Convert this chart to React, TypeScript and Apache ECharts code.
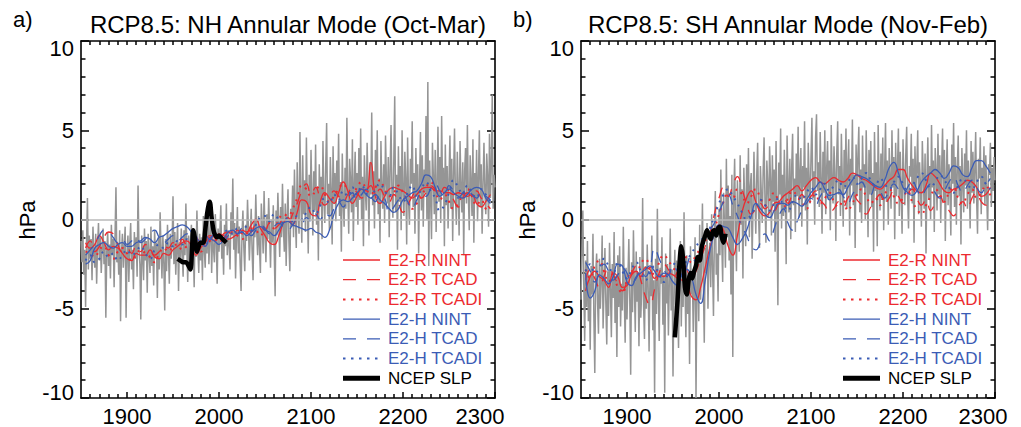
import React, { useEffect, useRef } from "react";
import * as echarts from "echarts";

// ---------------- DATA ----------------
const YEAR_MIN = 1850;
const YEAR_MAX = 2300;
const CENTURY_TICKS = [1900, 2000, 2100, 2200, 2300];
const Y_TICKS = [-10, -5, 0, 5, 10];

const TITLE_A = "RCP8.5: NH Annular Mode (Oct-Mar)";
const TITLE_B = "RCP8.5: SH Annular Mode (Nov-Feb)";
const LEGEND_NAMES = ["E2-R NINT", "E2-R TCAD", "E2-R TCADI", "E2-H NINT", "E2-H TCAD", "E2-H TCADI", "NCEP SLP"];

// annual grey series, 1850..2300
const GRAY_START = 1850;
const GRAY_A = [
  -1.2, -2.4, -0.6, -3.1, -1.7, -4.9, -1.3, 1.2, -2.8, -0.9,
  -2.2, -1.1, -3.4, -0.4, -1.9, -2.7, -0.8, -3.6, -1.5, -0.2,
  -2.3, -1.0, -3.0, -1.6, -0.5, -2.5, -1.2, -5.5, -1.8, -0.7,
  -2.6, -1.4, -3.3, -0.3, -2.0, -1.1, -3.8, -0.9, 1.8, -2.4,
  -1.3, -3.1, -0.6, -5.7, -1.9, -0.8, -2.7, -1.5, -0.4, -5.5,
  -2.0, -0.9, -3.5, -1.4, -0.2, -2.8, -1.7, -3.9, -0.7, -2.2,
  -1.0, -3.2, 1.9, -1.6, -2.5, -5.6, -0.9, -2.1, -3.4, -0.5,
  -2.3, -1.2, -4.1, -0.8, -1.9, -3.0, -0.4, -2.6, -1.5, -3.7,
  -0.6, -2.1, -1.3, -4.4, -1.0, -2.8, 0.4, -1.7, -3.3, -0.9,
  -2.4, -5.1, -1.1, -2.9, -0.3, -1.8, -3.6, -0.8, -2.2, -1.4,
  1.3, -2.5, -0.7, -3.1, -1.6, -0.2, -4.0, -1.3, -2.4, -0.5,
  -1.9, -3.2, -0.6, -2.0, 0.9, -1.5, -3.5, -0.9, -2.6, -1.2,
  -0.3, -2.8, -1.4, -3.8, -0.7, -2.1, 0.5, -1.6, -3.0, -0.8,
  -2.3, -1.0, -3.4, 0.2, -1.7, -2.7, -0.4, -1.9, 1.0, -2.5,
  -1.1, 0.6, -3.0, -0.9, -1.6, -2.4, 0.3, -1.2, -3.6, -0.5,
  -1.8, -0.7, 0.8, -2.2, -1.0, -3.1, -0.3, -1.5, 0.9, -2.0,
  -0.6, -1.4, -2.8, 0.4, -0.9, 2.3, -1.7, -0.2, -3.3, -1.0,
  0.7, -1.9, -0.4, -2.5, -4.0, -0.8, 0.5, -1.6, -2.9, -0.3,
  -1.2, 1.1, -0.5, -2.3, -0.9, 0.6, -1.8, -3.4, -0.1, -1.0,
  1.4, -0.7, -2.0, 0.2, -1.5, -3.0, 0.9, -0.4, -1.9, 1.6,
  -0.8, -2.4, 0.3, -1.1, 1.2, -0.6, -2.7, 0.0, -1.3, 0.8,
  -1.7, -4.3, 0.5, -0.9, 1.5, -0.3, -2.1, 0.7, -1.0, 2.0,
  -0.5, -1.8, 0.9, -2.6, 0.2, 1.7, -1.2, -2.9, 0.6, -0.4,
  1.9, -1.0, 2.8, 0.1, -1.6, 3.2, 0.4, -0.8, 4.9, 1.1,
  -1.3, 3.6, 0.3, 2.2, -0.7, 4.6, 1.0, -1.9, 2.5, 0.0,
  3.9, 1.4, -0.9, 2.7, 0.5, 4.2, -0.3, 1.8, -2.3, 3.1,
  0.8, 2.4, -1.1, 4.4, 1.2, -0.2, 3.0, 5.4, 0.3, 2.0,
  -0.6, 3.5, 1.6, -1.4, 4.1, 0.9, 2.6, -0.1, 3.3, 1.3,
  4.8, 0.2, 2.1, -1.8, 3.7, 1.0, -0.4, 2.9, 0.6, 5.7,
  1.5, -0.8, 3.4, 2.2, 0.4, 4.5, -1.2, 1.9, 3.8, 0.7,
  2.6, -0.3, 4.0, 1.1, 5.1, 0.0, 2.4, -1.5, 3.6, 1.7,
  0.5, 4.3, 2.0, -0.9, 3.2, 1.4, 6.0, 0.8, 2.7, -0.5,
  3.9, 1.2, 5.0, 0.3, 2.3, -1.3, 4.4, 1.8, 0.6, 3.1,
  -0.2, 4.7, 2.1, 0.9, 3.5, -1.0, 2.8, 5.3, 1.5, 0.1,
  3.3, 6.9, 0.4, 2.5, -1.7, 4.1, 1.0, 3.0, -0.6, 5.0,
  1.6, 0.2, 3.8, 2.3, -1.4, 4.6, 1.1, -0.3, 3.4, 2.0,
  5.5, 0.7, 2.6, -0.8, 4.0, 1.3, 3.1, -1.9, 2.2, 4.9,
  0.5, 3.6, -0.4, 2.8, 1.5, 5.8, 0.0, 7.7, -2.6, 3.3,
  1.2, -1.1, 4.3, 2.4, 0.3, 3.9, -0.7, 2.0, 5.2, 1.0,
  3.5, -0.2, 5.8, 1.6, 2.9, -1.5, 4.2, 0.8, 3.0, -0.5,
  2.2, 4.7, 0.6, 3.4, -1.2, 2.5, 5.1, 1.3, -0.3, 3.8,
  1.8, -0.9, 4.4, 2.0, 0.4, 3.2, -2.0, 2.7, 4.0, 0.9,
  5.3, 1.4, -0.6, 3.6, 2.1, 0.2, 4.5, -1.3, 2.6, 1.0,
  3.9, -0.1, 2.3, 5.0, 0.7, 3.1, -0.8, 2.0, 4.3, 1.5,
  0.3, 3.7, 2.4, -0.4, 4.8, 1.2, 3.0, 7.0, 0.6, 2.5,
  1.8,
];
const GRAY_B = [
  -4.5, -1.8, 0.5, -3.6, -6.8, -2.3, -4.9, -1.2, -5.7, -3.1,
  -7.3, -2.6, -4.2, -0.8, -5.5, -8.6, -3.0, -1.9, -4.6, -6.4,
  -2.2, -5.0, -3.4, -0.9, -6.1, -3.8, -1.6, -4.7, -7.0, -2.9,
  -5.4, -1.3, -3.9, -6.6, -2.5, -4.4, -0.7, -5.8, -3.2, -7.7,
  -2.0, -4.9, -1.5, -6.0, -3.6, -5.1, -0.4, -4.0, -6.9, -2.7,
  -5.6, -3.3, -1.1, -4.5, -8.7, -2.4, -5.2, -0.6, -3.7, -6.3,
  -1.8, -4.6, -3.0, -7.1, -2.1, -5.5, -3.9, 1.2, -4.8, -6.7,
  -2.6, -5.0, -1.4, -3.8, -7.4, -2.9, -4.3, -0.9, -6.2, -3.4,
  -9.7, -2.2, -5.3, 0.6, -4.1, -6.8, -2.7, -3.6, -1.0, -5.9,
  -3.1, -9.7, -1.9, -4.7, -2.5, -6.5, -3.5, -0.5, -5.1, -2.8,
  -8.8, -3.9, -1.7, -5.6, -2.3, -4.4, -7.2, -3.0, -1.2, -6.0,
  -2.6, -4.9, 0.4, -3.7, -6.6, -2.0, -5.3, -3.2, -8.1, -1.5,
  -4.2, -2.9, -6.3, -3.5, -1.0, -10.0, -3.8, -2.1, -5.7, -0.3,
  -4.5, -2.4, 0.9, -3.6, -6.9, -1.6, -3.0, -0.2, -5.0, -2.2,
  -1.3, -3.8, 0.3, -2.6, -5.4, -0.8, 1.6, -3.1, -1.9, -4.6,
  0.6, -2.0, 2.8, -1.2, -3.5, 1.5, -0.4, -2.7, 3.4, -1.0,
  1.9, -2.3, 0.2, -4.2, 2.5, -7.7, 1.1, 3.4, -0.6, -2.9,
  2.2, 0.4, -1.8, 3.6, -0.3, 1.7, -3.3, 2.9, 0.8, -1.5,
  3.1, 0.0, 4.0, -1.0, 1.8, 2.6, -2.2, 0.7, 3.8, 1.2,
  -0.8, 2.4, 4.3, 0.3, -1.6, 3.0, 1.5, -0.2, 2.7, 4.6,
  0.9, -1.3, 3.3, 1.9, 0.1, 4.1, 2.2, -0.9, 3.6, 1.0,
  2.8, -1.8, 4.4, 0.6, -4.8, 3.2, 1.4, 5.1, -0.5, 2.5,
  0.2, 3.9, 1.6, -2.5, 4.7, 2.0, 0.4, 3.4, -1.1, 2.9,
  4.8, 0.8, 2.3, -0.7, 3.7, 1.3, 5.2, 0.1, 2.6, 4.0,
  -0.4, 3.0, 1.8, 5.5, 0.5, 2.9, -1.4, 4.3, 2.1, 0.9,
  3.5, 5.7, 1.2, 2.7, -0.3, 4.6, 5.9, 1.6, 3.2, 0.7,
  4.9, 2.4, -0.8, 3.8, 1.5, 5.0, 0.3, 2.8, 4.4, 1.1,
  3.3, -0.6, 5.3, 2.0, 0.9, 4.1, 2.6, -1.2, 3.7, 5.5,
  1.4, 3.0, 0.2, 4.8, 2.3, -0.4, 3.9, 1.7, 5.1, 0.6,
  2.9, 4.5, -0.9, 3.4, 1.9, 5.6, 0.8, 2.5, -1.6, 4.2,
  1.3, 3.6, 5.2, 0.4, 2.8, -0.2, 4.7, 1.8, 3.1, 0.0,
  5.0, 2.2, -1.0, 3.9, 1.4, 4.4, 0.7, 2.6, -1.8, 4.9,
  1.6, 3.2, -1.5, 5.3, 2.0, 0.5, 3.7, 1.1, 4.6, -0.6,
  2.7, 5.4, 1.0, 3.3, -0.3, 4.0, 2.2, 0.6, 5.0, 1.8,
  3.5, -1.1, 4.3, 1.3, 2.9, 5.1, 0.2, 3.8, 1.6, -0.8,
  4.5, 2.1, 0.8, 3.6, 5.2, 1.4, -0.5, 3.0, 2.4, 4.8,
  0.9, 3.4, -1.3, 4.1, 1.7, 2.8, 5.0, 0.3, 3.2, 1.9,
  -0.4, 4.4, 2.5, 0.6, 3.7, -1.9, 2.3, 4.6, 1.1, 3.0,
  0.0, 5.3, 1.8, 3.3, -0.7, 4.0, 2.6, 0.5, 4.8, 1.4,
  3.6, -0.2, 2.9, 5.1, 1.0, 3.9, -1.2, 2.4, 4.5, 0.8,
  3.1, 1.6, -0.9, 4.2, 2.0, 5.4, 0.7, 3.5, -0.3, 2.8,
  4.7, 1.3, 3.0, -1.4, 4.0, 2.2, 0.4, 3.7, 1.9, 5.0,
  0.6, 3.3, 2.1, -0.5, 4.4, 1.5, 3.8, 0.9, 2.7, 4.9,
  1.2, -0.8, 3.4, 2.3, 4.6, 0.3, 2.9, 1.7, 4.1, 0.8,
  3.6, 1.4, -0.6, 3.1, 2.5, 4.3, 0.7, 2.9, 1.6, 3.5,
  2.2,
];

// smoothed model series, every 5 years 1855..2295
const SMOOTH_START = 1855;
const SMOOTH_STEP = 5;

const A_R_NINT = [
  -1.3, -1.6, -1.4, -0.9, -1.3, -1.7, -1.5, -1.6, -1.9, -2.2,
  -2.3, -1.9, -2.0, -2.0, -1.7, -2.1, -2.2, -1.9, -2.0, -1.7,
  -1.5, -1.3, -1.2, -1.5, -2.0, -1.6, -1.3, -1.0, -1.2, -0.8,
  -0.9, -1.1, -1.0, -0.8, -0.6, -0.7, -0.3, 0.0, -0.5, -0.9,
  -1.3, -1.4, -0.9, -0.2, 0.1, -0.3, 0.4, 1.1, 1.0, 0.3,
  0.2, 1.0, 1.5, 1.2, 0.9, 1.5, 2.1, 1.6, 0.9, 1.3,
  1.7, 1.6, 3.2, 1.3, 0.9, 1.3, 1.7, 1.8, 1.7, 1.6,
  1.4, 1.2, 1.4, 1.7, 1.8, 1.8, 1.6, 1.6, 1.5, 1.5,
  1.4, 1.5, 1.4, 1.3, 1.4, 0.9, 0.7, 1.0, 1.4,
];
const A_R_TCAD = [
  -1.6, -1.2, -1.8, -1.5, -1.0, -0.7, -0.8, -1.4, -1.8, -1.6,
  -1.9, -1.5, -1.8, -1.4, -1.7, -2.0, -1.8, -1.5, -1.6, -1.3,
  -1.5, -1.1, -1.4, -1.2, -1.0, -1.3, -1.1, -0.9, -1.0, -1.2,
  -0.8, -0.7, -1.0, -0.6, -0.8, -0.5, -0.7, -0.3, -0.4, -0.6,
  -0.2, -0.5, -0.3, 0.0, -0.2, 0.3, 0.9, 1.6, 2.0, 1.4,
  1.8, 1.2, 0.8, 1.1, 1.6, 1.3, 1.0, 1.4, 1.8, 1.5,
  1.2, 1.6, 1.9, 1.4, 1.7, 1.3, 1.0, 1.4, 0.9, 0.4,
  0.8, 1.3, 1.6, 1.2, 1.5, 1.9, 1.7, 1.3, 1.8, 1.6,
  1.1, 0.7, 1.2, 1.5, 1.3, 1.6, 1.2, 0.9, 0.6,
];
const A_R_TCADI = [
  -1.8, -1.9, -2.1, -1.7, -1.5, -2.0, -2.2, -1.8, -1.6, -1.9,
  -2.3, -2.0, -1.7, -1.9, -2.1, -2.4, -1.9, -1.6, -1.8, -1.5,
  -1.4, -1.7, -1.5, -1.3, -1.6, -1.8, -1.4, -1.2, -1.1, -1.3,
  -1.0, -0.9, -0.7, -0.9, -1.1, -0.8, -0.5, -0.6, -0.9, -0.4,
  -0.2, -0.5, 0.0, 0.3, 0.2, 0.6, 1.2, 1.9, 1.7, 1.3,
  1.6, 1.9, 1.4, 1.0, 1.3, 1.7, 2.0, 1.6, 1.3, 1.8,
  2.1, 1.7, 1.4, 1.8, 2.2, 1.7, 1.3, 1.5, 1.9, 1.5,
  1.0, 0.6, 0.9, 1.3, 1.8, 2.1, 1.6, 1.1, 1.4, 1.0,
  0.6, 0.9, 1.4, 1.7, 1.3, 0.8, 1.1, 0.6, 0.4,
];
const A_H_NINT = [
  -2.5, -2.3, -1.6, -1.4, -1.3, -1.5, -1.6, -1.4, -1.3, -1.5,
  -1.5, -1.3, -1.2, -1.0, -1.1, -1.3, -1.0, -0.9, -0.7, -0.5,
  -0.4, -0.3, -0.4, -0.7, -1.0, -1.3, -1.5, -1.1, -1.2, -1.4,
  -1.1, -0.7, -0.6, -0.8, -0.7, -0.9, -0.7, -0.5, -0.4, -0.6,
  -0.7, -0.9, -0.6, -0.2, -0.1, -0.3, -0.4, -0.5, -0.6, -0.5,
  -0.7, -0.8, -1.0, -0.6, 0.3, 0.9, 1.1, 1.0, 1.2, 1.5,
  1.7, 1.4, 1.2, 1.4, 1.1, 0.9, 0.6, 0.4, 0.6, 1.1,
  1.3, 1.5, 1.6, 2.0, 2.5, 2.4, 1.8, 1.3, 1.5, 1.7,
  1.5, 1.3, 1.2, 1.4, 1.7, 1.8, 1.7, 1.2, 0.9,
];
const A_H_TCAD = [
  -2.0, -1.7, -1.4, -0.9, -0.6, -0.7, -1.0, -1.3, -1.1, -1.4,
  -1.2, -1.0, -1.3, -1.1, -0.8, -0.6, -1.0, -1.3, -1.1, -0.9,
  -1.2, -1.0, -0.8, -1.1, -1.4, -1.2, -0.9, -1.1, -0.8, -1.0,
  -1.2, -0.9, -0.6, -0.8, -0.5, -0.7, -0.9, -0.6, -0.3, -0.5,
  -0.8, -0.4, -0.2, -0.4, -0.6, -0.3, 0.0, -0.2, 0.1, -0.1,
  0.3, 0.0, 0.4, 0.2, 0.6, 1.0, 0.7, 1.2, 1.5, 1.1,
  1.4, 1.7, 1.3, 1.0, 1.4, 1.2, 0.4, 0.7, 1.1, 1.4,
  1.0, 0.6, 1.1, 1.5, 1.3, 1.7, 2.0, 1.6, 1.3, 1.9,
  1.6, 1.2, 1.5, 1.7, 1.4, 1.2, 1.5, 1.3, 1.1,
];
const A_H_TCADI = [
  -2.3, -2.0, -2.4, -2.2, -1.8, -2.1, -1.9, -2.3, -2.0, -1.7,
  -2.0, -1.8, -1.5, -1.9, -2.2, -1.7, -1.4, -1.6, -1.3, -1.5,
  -1.2, -1.4, -1.1, -1.3, -1.0, -1.2, -1.4, -1.1, -0.9, -1.1,
  -0.8, -0.6, -0.8, -0.5, -0.7, -0.4, -0.6, -0.3, 0.1, 0.2,
  -0.1, 0.3, 0.0, -0.2, 0.1, -0.1, 0.2, 0.0, 0.4, 0.7,
  0.3, 0.8, 1.2, 0.9, 1.4, 1.1, 1.6, 1.3, 1.8, 1.4,
  1.9, 1.5, 1.2, 1.7, 2.0, 1.6, 1.3, 1.8, 1.4, 1.0,
  1.5, 1.9, 1.3, 1.7, 2.1, 1.6, 1.2, 0.5, 0.8, 1.5,
  2.2, 1.8, 1.4, 1.9, 1.5, 1.2, 1.7, 1.4, 1.0,
];

const B_R_NINT = [
  -4.0, -3.2, -2.9, -3.2, -3.4, -3.8, -3.0, -3.2, -3.8, -3.7,
  -3.1, -2.9, -3.2, -2.7, -2.8, -3.3, -3.1, -3.2, -3.0, -3.1,
  -3.3, -3.4, -3.6, -4.3, -4.5, -3.8, -2.7, -1.6, -0.8, -0.3,
  -0.6, -1.5, -2.0, -0.9, 0.4, 1.2, 1.6, 1.0, 0.4, 0.2,
  0.4, 0.9, 1.0, 1.3, 1.5, 1.7, 1.9, 1.6, 1.9, 2.2,
  2.35, 2.1, 2.0, 2.2, 2.35, 2.2, 2.1, 2.3, 2.6, 2.5,
  2.3, 2.2, 2.0, 1.8, 1.7, 1.9, 2.2, 2.4, 2.8, 2.8,
  2.3, 1.9, 1.6, 1.5, 1.9, 2.6, 2.4, 2.0, 1.6, 1.5,
  1.7, 1.8, 2.0, 2.2, 2.1, 1.8, 1.3, 1.4, 1.8,
];
const B_R_TCAD = [
  -3.4, -2.8, -3.3, -3.8, -3.2, -2.7, -3.1, -3.6, -4.0, -3.5,
  -3.0, -2.6, -3.4, -4.3, -4.8, -3.9, -3.0, -2.5, -2.8, -3.3,
  -2.9, -2.4, -2.8, -3.3, -2.9, -2.2, -1.5, -0.8, 0.3, 1.2,
  1.8, 1.3, 1.9, 2.4, 1.7, 0.9, 0.3, 0.6, 0.9, 0.6,
  0.8, 0.5, 0.9, 1.2, 0.9, 1.3, 1.1, 1.4, 1.0, 1.3,
  1.6, 1.1, 0.8, 0.4, 0.6, 1.0, 0.7, 1.2, 1.5, 1.1,
  0.8, 0.3, 0.7, 1.1, 1.4, 0.9, 1.2, 1.6, 1.3, 0.9,
  1.4, 1.7, 1.2, 0.8, 1.1, 0.5, 0.9, 1.3, 0.8, 0.5,
  0.2, 0.7, 1.0, 0.6, 1.2, 1.5, 1.0, 0.8, 1.2,
];
const B_R_TCADI = [
  -2.8, -3.3, -2.6, -2.3, -2.9, -3.5, -3.0, -3.8, -4.1, -3.4,
  -2.9, -3.1, -2.5, -2.2, -2.7, -3.1, -2.4, -2.0, -2.3, -2.7,
  -2.9, -2.5, -2.1, -2.4, -2.0, -1.6, -1.2, -0.9, -0.5, 0.3,
  1.0, 1.5, 1.2, 1.7, 1.4, 0.9, 1.3, 1.7, 1.2, 0.8,
  1.1, 1.5, 1.0, 0.7, 1.2, 1.6, 1.3, 1.0, 0.6, 1.1,
  1.4, 0.9, 1.2, 1.5, 1.0, 0.7, 1.1, 0.5, 0.9, 1.4,
  1.7, 1.3, 0.9, 1.2, 0.8, 1.4, 1.7, 1.3, 0.9, 1.2,
  1.6, 1.0, 0.6, 0.3, 0.8, 1.3, 1.7, 1.4, 1.0, 1.5,
  1.8, 1.2, 0.9, 1.4, 1.7, 1.2, 1.5, 1.9, 1.3,
];
const B_H_NINT = [
  -3.0, -4.4, -4.0, -3.1, -3.3, -3.6, -3.2, -2.5, -2.6, -3.5,
  -3.7, -3.2, -3.0, -2.8, -2.6, -2.9, -3.2, -3.0, -3.1, -3.5,
  -3.7, -3.0, -2.8, -3.2, -4.2, -4.7, -3.4, -1.8, -0.8, -0.3,
  -0.4, -0.5, -1.0, -1.4, -1.1, -0.6, 0.2, 0.9, 0.6, 0.3,
  0.1, 0.5, 0.9, 0.9, 0.8, 1.0, 0.9, 0.75, 1.1, 1.5,
  1.8, 2.1, 1.7, 1.35, 1.4, 1.5, 1.4, 1.8, 2.2, 2.5,
  2.4, 2.3, 2.1, 1.9, 1.8, 2.2, 2.9, 3.2, 2.6, 1.8,
  1.5, 1.35, 1.6, 2.1, 2.4, 2.6, 2.8, 2.6, 2.3, 2.6,
  3.0, 2.9, 2.5, 2.4, 2.9, 3.3, 3.3, 3.0, 2.6,
];
const B_H_TCAD = [
  -2.4, -2.9, -3.5, -3.0, -2.5, -2.9, -3.4, -3.1, -2.7, -3.0,
  -3.6, -3.3, -2.8, -3.2, -2.7, -1.6, -2.2, -2.8, -3.1, -2.6,
  -2.9, -3.2, -2.6, -2.0, -2.4, -1.8, -1.0, -0.6, -0.2, 0.4,
  1.0, 1.4, 0.8, 0.2, -0.4, -0.9, -1.5, -1.7, -1.3, -0.8,
  -1.2, -0.5, 0.2, 0.6, -0.2, -0.6, -0.1, 0.5, 0.9, 1.2,
  0.8, 1.3, 1.6, 1.1, 1.4, 1.7, 1.3, 0.9, 1.4, 1.8,
  2.1, 1.7, 1.4, 1.9, 1.6, 1.2, 1.6, 2.0, 1.7, 1.4,
  1.8, 2.2, 1.7, 1.3, 1.7, 2.0, 1.5, 1.2, 1.6, 2.1,
  2.4, 1.9, 1.5, 1.9, 2.2, 1.8, 1.5, 1.9, 2.3,
];
const B_H_TCADI = [
  -2.9, -2.5, -3.0, -2.7, -2.2, -2.6, -3.0, -2.4, -2.9, -3.3,
  -2.8, -2.4, -2.9, -3.4, -3.0, -2.6, -3.1, -3.5, -3.0, -2.6,
  -2.3, -2.7, -2.3, -1.9, -1.5, -1.2, -0.9, -0.5, 0.2, 0.9,
  1.4, 1.7, 1.3, 0.9, 0.4, 0.0, 0.3, 0.7, 1.1, 0.8,
  0.5, 0.9, 1.2, 0.8, 0.5, 1.0, 1.4, 1.1, 1.5, 1.8,
  1.4, 1.7, 2.0, 1.6, 1.9, 2.2, 1.8, 2.1, 2.4, 2.0,
  2.3, 2.6, 2.2, 1.9, 2.3, 2.0, 1.7, 2.1, 2.4, 2.0,
  1.6, 1.9, 2.3, 2.6, 2.2, 1.8, 2.1, 2.5, 2.2, 1.8,
  1.5, 1.9, 2.3, 2.0, 1.7, 2.1, 2.4, 2.0, 1.7,
];

// observed reanalysis (NCEP SLP)
const NCEP_A_YEARS = [1955, 1958, 1961, 1964, 1967, 1969, 1971, 1972, 1974, 1976, 1978, 1980, 1983, 1985, 1987, 1989, 1990, 1992, 1994, 1996, 1998, 2000, 2002, 2004, 2006, 2008];
const NCEP_A_VALUES = [-2.2, -2.3, -2.4, -2.4, -2.6, -2.8, -1.3, -0.6, -1.1, -1.8, -1.5, -1.3, -1.3, -0.6, 0.3, 0.9, 1.0, 0.1, -0.6, -0.9, -1.0, -0.9, -1.0, -1.1, -1.2, -1.3];
const NCEP_B_YEARS = [1952, 1955, 1957, 1959, 1961, 1963, 1965, 1967, 1969, 1971, 1973, 1975, 1977, 1979, 1981, 1983, 1985, 1987, 1989, 1991, 1993, 1995, 1997, 1999, 2001, 2003, 2005, 2007];
const NCEP_B_VALUES = [-6.6, -4.5, -2.5, -1.5, -2.2, -3.8, -4.2, -3.4, -3.0, -3.3, -2.9, -2.6, -2.1, -2.3, -1.6, -1.2, -0.9, -0.6, -0.9, -1.1, -0.7, -0.6, -0.9, -0.5, -0.4, -1.0, -1.3, -0.8];

// ---------------- STYLE ----------------
const FONT = "'Liberation Sans', Arial, Helvetica, sans-serif";
const RED = "#ec2a2f";
const BLUE = "#3b5cb5";
const GRAY = "#959595";
const ZERO = "#b8b8b8";
const DASH = [11, 9];
const DOT = [2, 5];

const annual = (start: number, vals: number[]) => vals.map((v, i) => [start + i, v]);
const stepped = (start: number, step: number, vals: number[]) => vals.map((v, i) => [start + i * step, v]);
const paired = (xs: number[], ys: number[]) => xs.map((x, i) => [x, ys[i]]);

const DECADE_TICKS: number[] = [];
for (let y = YEAR_MIN + 10; y < YEAR_MAX; y += 10) if (y % 100 !== 0) DECADE_TICKS.push(y);
const ALL_DECADE_TICKS: number[] = [];
for (let y = YEAR_MIN + 10; y < YEAR_MAX; y += 10) ALL_DECADE_TICKS.push(y);

const AX = { color: "#000", width: 1.6 };
const TK = { color: "#000", width: 1.5 };

function xAxes(grid: number, lastPad: number) {
  const base = { type: "value", gridIndex: grid, min: YEAR_MIN, max: YEAR_MAX, splitLine: { show: false } };
  return [
    {
      ...base,
      position: "bottom",
      axisLine: { show: true, onZero: false, lineStyle: AX },
      axisTick: { show: true, inside: true, length: 6, customValues: CENTURY_TICKS, lineStyle: TK },
      axisLabel: {
        show: true,
        customValues: CENTURY_TICKS,
        margin: 7,
        formatter: (v: number) => (v === YEAR_MAX ? `{e|${v}}` : `{n|${v}}`),
        rich: {
          n: { fontSize: 22, fontFamily: FONT, color: "#000" },
          e: { fontSize: 22, fontFamily: FONT, color: "#000", padding: [0, lastPad, 0, 0] },
        },
      },
    },
    {
      ...base,
      position: "bottom",
      axisLine: { show: false, onZero: false },
      axisTick: { show: true, inside: true, length: 4, customValues: DECADE_TICKS, lineStyle: TK },
      axisLabel: { show: false },
    },
    {
      ...base,
      position: "top",
      axisLine: { show: true, onZero: false, lineStyle: AX },
      axisTick: { show: true, inside: true, length: 4, customValues: ALL_DECADE_TICKS, lineStyle: TK },
      axisLabel: { show: false },
    },
  ];
}

function yAxes(grid: number) {
  const base = {
    type: "value",
    gridIndex: grid,
    min: Y_TICKS[0],
    max: Y_TICKS[Y_TICKS.length - 1],
    interval: 5,
    splitLine: { show: false },
    minorSplitLine: { show: false },
    axisLine: { show: true, onZero: false, lineStyle: AX },
    axisTick: { show: true, inside: true, length: 8, lineStyle: TK },
    minorTick: { show: true, splitNumber: 5, length: 4.5, lineStyle: TK },
  };
  return [
    {
      ...base,
      position: "left",
      axisLabel: {
        show: true,
        margin: 7,
        showMinLabel: true,
        showMaxLabel: true,
        formatter: (v: number) => (v === 10 ? `{t|${v}}` : v === -10 ? `{b|${v}}` : `{n|${v}}`),
        rich: {
          n: { fontSize: 22, fontFamily: FONT, color: "#000" },
          t: { fontSize: 22, fontFamily: FONT, color: "#000", padding: [14, 0, 0, 0] },
          b: { fontSize: 22, fontFamily: FONT, color: "#000", padding: [0, 0, 12, 0] },
        },
      },
    },
    { ...base, position: "right", axisLabel: { show: false } },
  ];
}

function panelSeries(xi: number, yi: number, gray: number[], models: number[][], ncepX: number[], ncepY: number[]) {
  const styles = [
    { color: RED, type: "solid", width: 1.3 },
    { color: RED, type: DASH, width: 1.3 },
    { color: RED, type: DOT, width: 2 },
    { color: BLUE, type: "solid", width: 1.3 },
    { color: BLUE, type: DASH, width: 1.3 },
    { color: BLUE, type: DOT, width: 2 },
  ];
  const common = { type: "line", xAxisIndex: xi, yAxisIndex: yi, symbol: "none", showSymbol: false, silent: true };
  const out: any[] = [
    {
      ...common,
      name: "zero",
      data: [],
      z: 1,
      markLine: {
        silent: true,
        symbol: ["none", "none"],
        label: { show: false },
        lineStyle: { color: ZERO, width: 1.6, type: "solid" },
        data: [{ yAxis: 0 }],
      },
    },
    { ...common, name: "ensemble", data: annual(GRAY_START, gray), z: 2, lineStyle: { color: GRAY, width: 1.5 } },
  ];
  models.forEach((vals, k) => {
    out.push({
      ...common,
      name: LEGEND_NAMES[k],
      data: stepped(SMOOTH_START, SMOOTH_STEP, vals),
      smooth: 0.5,
      z: 3,
      lineStyle: styles[k],
    });
  });
  out.push({
    ...common,
    name: LEGEND_NAMES[6],
    data: paired(ncepX, ncepY),
    smooth: 0.3,
    z: 4,
    lineStyle: { color: "#000", width: 4.5, join: "round" },
  });
  return out;
}

function legendGraphics(x0: number) {
  const rows = [260, 279.7, 299.4, 319.1, 338.8, 358.5, 378.2];
  const lineStyles: any[] = [
    { stroke: RED, lineWidth: 1.3 },
    { stroke: RED, lineWidth: 1.3, lineDash: [13, 11] },
    { stroke: RED, lineWidth: 2, lineDash: [2.5, 5.5] },
    { stroke: BLUE, lineWidth: 1.3 },
    { stroke: BLUE, lineWidth: 1.3, lineDash: [13, 11] },
    { stroke: BLUE, lineWidth: 2, lineDash: [2.5, 5.5] },
    { stroke: "#000", lineWidth: 5 },
  ];
  const colors = [RED, RED, RED, BLUE, BLUE, BLUE, "#000"];
  const els: any[] = [];
  rows.forEach((y, i) => {
    els.push({ type: "line", silent: true, z: 100, shape: { x1: x0, y1: y, x2: x0 + 37, y2: y }, style: lineStyles[i] });
    els.push({
      type: "text",
      silent: true,
      z: 100,
      x: x0 + 45,
      y,
      style: { text: LEGEND_NAMES[i], fill: colors[i], fontSize: 17, fontFamily: FONT, align: "left", verticalAlign: "middle" },
    });
  });
  return els;
}

function textEl(text: string, x: number, y: number, size: number, align = "center", rotation = 0) {
  return {
    type: "text",
    silent: true,
    x,
    y,
    rotation,
    z: 100,
    style: { text, fill: "#000", fontSize: size, fontFamily: FONT, align, verticalAlign: "middle" },
  };
}

export default function App() {
  const ref = useRef<HTMLDivElement>(null);
  useEffect(() => {
    if (!ref.current) return;
    const chart = echarts.init(ref.current, null, { renderer: "svg" });
    const option: any = {
      animation: false,
      backgroundColor: "#ffffff",
      grid: [
        { left: 81, top: 41, width: 414, height: 357 },
        { left: 581, top: 41, width: 414, height: 357 },
      ],
      xAxis: [...xAxes(0, 30), ...xAxes(1, 24)],
      yAxis: [...yAxes(0), ...yAxes(1)],
      series: [
        ...panelSeries(0, 0, GRAY_A, [A_R_NINT, A_R_TCAD, A_R_TCADI, A_H_NINT, A_H_TCAD, A_H_TCADI], NCEP_A_YEARS, NCEP_A_VALUES),
        ...panelSeries(3, 2, GRAY_B, [B_R_NINT, B_R_TCAD, B_R_TCADI, B_H_NINT, B_H_TCAD, B_H_TCADI], NCEP_B_YEARS, NCEP_B_VALUES),
      ],
      graphic: [
        textEl("a)", 13, 19, 22, "left"),
        textEl("b)", 513, 19, 22, "left"),
        textEl(TITLE_A, 288, 24, 24),
        textEl(TITLE_B, 788, 24, 24),
        textEl("hPa", 27.5, 220, 22, "center", Math.PI / 2),
        textEl("hPa", 527.5, 220, 22, "center", Math.PI / 2),
        ...legendGraphics(343),
        ...legendGraphics(843),
      ],
    };
    chart.setOption(option);
    return () => chart.dispose();
  }, []);
  return (
    <div
      ref={ref}
      style={{ position: "absolute", left: 0, top: 0, width: 1021, height: 427, background: "#fff" }}
    />
  );
}
